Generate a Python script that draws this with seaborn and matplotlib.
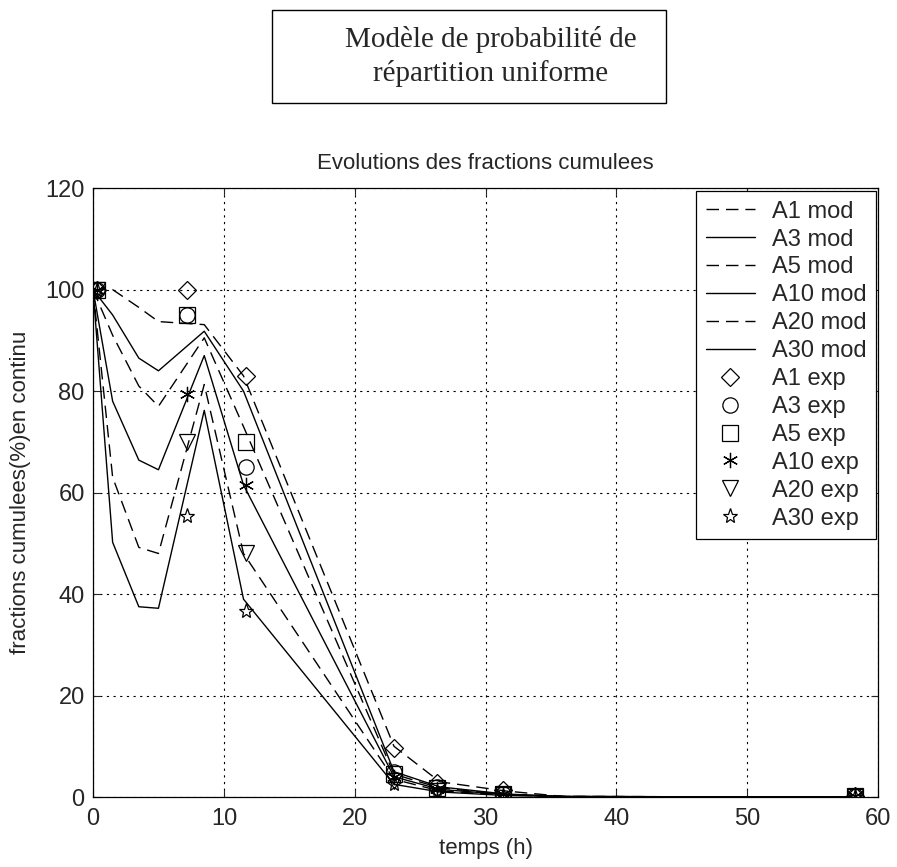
import numpy as np
import pandas as pd
import matplotlib
matplotlib.use("Agg")
import matplotlib.pyplot as plt
from matplotlib.patches import Rectangle
import seaborn as sns

# --- data ---
t_mod = [0, 1.5, 3.5, 5, 8.5, 11.5, 23, 26.5, 31.5, 36, 58]
a1_mod = [100, 100, 96.5, 93.7, 93.1, 83, 10, 3, 1.2, 0.1, 0]
a3_mod = [100, 95, 86.5, 84, 91.8, 80, 5, 2, 0.6, 0.1, 0]
a5_mod = [100, 91, 81, 77, 90.5, 73, 4.5, 1.8, 0.5, 0.1, 0]
a10_mod = [100, 78, 66.4, 64.5, 87, 61.5, 4, 1.5, 0.5, 0.1, 0]
a20_mod = [100, 63, 49.2, 48, 81.3, 48, 3.5, 1.2, 0.4, 0.1, 0]
a30_mod = [100, 50.2, 37.5, 37.2, 76.2, 39, 2.5, 1, 0.3, 0.1, 0]

t_exp = [0.3, 7.2, 11.7, 23, 26.3, 31.3, 58.2]
a1_exp = [100, 100, 83, 9.6, 2.8, 1.3, 0.3]
a3_exp = [100, 95, 65, 5, 2, 0.6, 0.2]
a5_exp = [100, 95, 70, 4.5, 1.8, 0.5, 0.2]
a10_exp = [100, 79.5, 61.5, 4, 1.5, 0.5, 0.2]
a20_exp = [100, 70, 48, 3.2, 1.2, 0.4, 0.1]
a30_exp = [100, 55.3, 36.6, 2.5, 1, 0.3, 0.1]

names = ["A1", "A3", "A5", "A10", "A20", "A30"]
mod_series = [a1_mod, a3_mod, a5_mod, a10_mod, a20_mod, a30_mod]
exp_series = [a1_exp, a3_exp, a5_exp, a10_exp, a20_exp, a30_exp]

sns.set_style("ticks")
plt.rcParams['font.family'] = ['Liberation Sans', 'DejaVu Sans']
plt.rcParams['xtick.direction'] = 'in'
plt.rcParams['ytick.direction'] = 'in'

fig = plt.figure(figsize=(8.97, 8.67), dpi=100)
ax = fig.add_axes([0.1037, 0.0807, 0.8753, 0.7023])

# model curves: dashed / solid alternating
for i, (name, vals) in enumerate(zip(names, mod_series)):
    ls = (0, (9, 5)) if i % 2 == 0 else '-'
    sns.lineplot(x=t_mod, y=vals, ax=ax, color='black', lw=1.0,
                 linestyle=ls, label=name + " mod", estimator=None, sort=False)

# experimental points
markers = ['D', 'o', 's', (6, 2, 0), 'v', '*']
sizes = [9, 11, 11, 11, 12, 11]
for name, vals, m, s in zip(names, exp_series, markers, sizes):
    ax.plot(t_exp, vals, linestyle='none', marker=m, markersize=s,
            markerfacecolor='none', markeredgecolor='black',
            markeredgewidth=0.9, label=name + " exp")

ax.set_xlim(0, 60)
ax.set_ylim(0, 120)
ax.set_xticks(range(0, 61, 10))
ax.set_yticks(range(0, 121, 20))
ax.tick_params(labelsize=17, length=5, width=0.8, top=True, right=True)
ax.tick_params(axis='x', pad=8)
ax.tick_params(axis='y', pad=6)
ax.grid(True, color='black', linestyle=(0, (2, 4)), linewidth=0.8)
for sp in ax.spines.values():
    sp.set_color('black')
    sp.set_linewidth(0.9)

ax.set_title("Evolutions des fractions cumulees", fontsize=16, pad=14)
ax.set_xlabel("temps (h)", fontsize=16, labelpad=6)
ax.set_ylabel("fractions cumulees(%)en continu", fontsize=16, labelpad=10)

handles, labels = ax.get_legend_handles_labels()
leg = ax.legend(handles, labels, loc='upper right', bbox_to_anchor=(0.997, 0.995),
                borderaxespad=0, fontsize=17, frameon=True, fancybox=False,
                edgecolor='black', framealpha=1, handlelength=2.1,
                labelspacing=0.25, borderpad=0.4, handletextpad=0.7)
leg.get_frame().set_linewidth(0.9)

# boxed heading above the plot
fig.patches.append(Rectangle((0.303, 0.881), 0.440, 0.107, transform=fig.transFigure,
                             fill=False, edgecolor='black', linewidth=1.0))
fig.text(0.547, 0.955, "Modèle de probabilité de", ha='center', va='center',
         fontsize=21, family='Liberation Serif')
fig.text(0.547, 0.915, "répartition uniforme", ha='center', va='center',
         fontsize=21, family='Liberation Serif')

plt.savefig('out.png', dpi=100)
